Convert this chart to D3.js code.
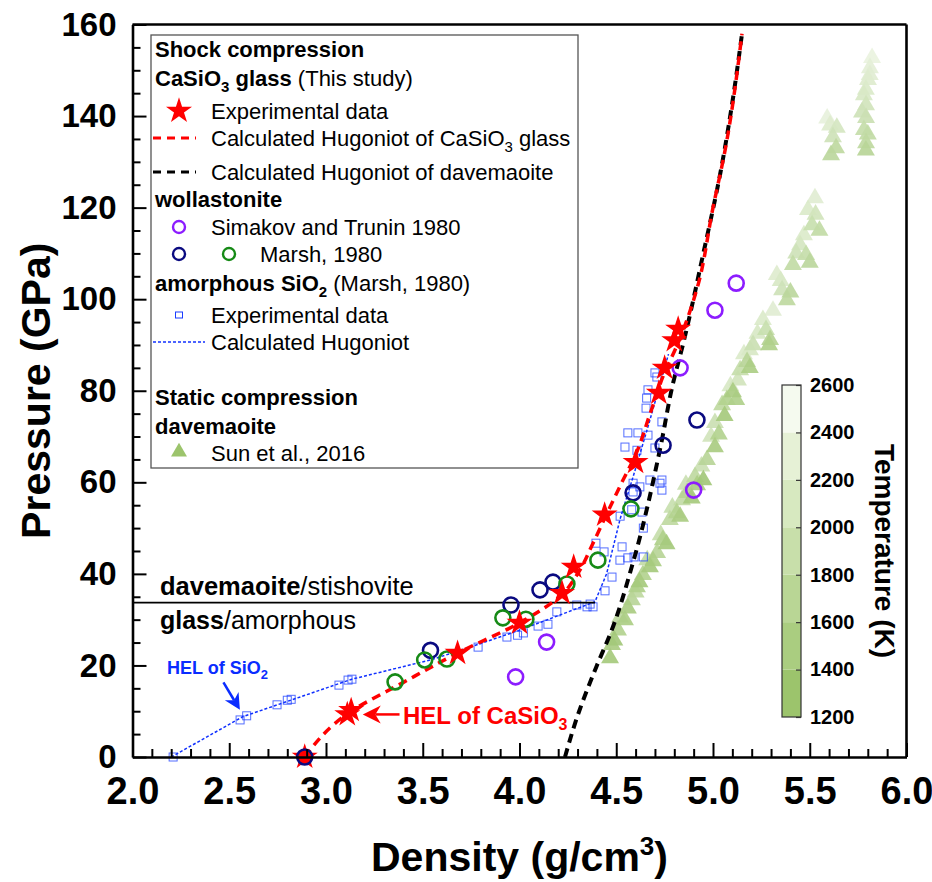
<!DOCTYPE html>
<html>
<head>
<meta charset="utf-8">
<script src="https://cdn.jsdelivr.net/npm/d3@7"></script>
<style>
  body { margin: 0; background: #fff; }
  svg { font-family: "Liberation Sans", Arial, sans-serif; }
</style>
</head>
<body>
<div id="chart"></div>
<script>
// ---- data (density g/cm3, pressure GPa) ----
const glassStars = [
  [2.89, 0], [3.11, 9.3], [3.13, 10.2], [3.68, 22.7], [4.0, 29.3], [4.22, 35.8],
  [4.28, 41.5], [4.44, 52.9], [4.6, 64.4], [4.72, 79.5], [4.75, 85], [4.80, 91], [4.82, 93.5]
];
const glassHugoniot = [
  [2.89, 0], [3.12, 9.7], [3.4, 16.3], [3.68, 22.7], [4.0, 29.3], [4.22, 35.5], [4.3, 40],
  [4.38, 46.7], [4.45, 53], [4.535, 60.5], [4.6, 66], [4.675, 75], [4.75, 84], [4.81, 89.5],
  [4.92, 102.7], [5.0, 120], [5.06, 132], [5.15, 158]
];
const davemaoiteHugoniot = [
  [4.235, 0], [4.3, 9], [4.4, 20], [4.47, 27], [4.59, 43], [4.73, 68], [4.79, 81],
  [4.85, 91], [4.95, 110], [5.04, 128], [5.10, 143], [5.15, 158]
];
const simakov = [[3.98, 17.5], [4.14, 25.1], [4.83, 85], [4.90, 58.3], [5.01, 97.6], [5.12, 103.5]];
const marshNavy = [[3.54, 23.3], [3.956, 33.2], [4.106, 36.5], [4.173, 38.2], [4.587, 57.7], [4.742, 68.1], [4.917, 73.6]];
const marshGreen = [[3.357, 16.4], [3.51, 21.2], [3.625, 21.4], [3.914, 30.4], [4.033, 30.1], [4.245, 37.8], [4.405, 43], [4.576, 54.2]];
const marshStart = [[2.89, 0]];
const silicaData = [
  [2.21, 0], [2.556, 8.1], [2.59, 9], [2.747, 11.4], [2.80, 12.4], [2.82, 12.6], [3.067, 15.7],
  [3.114, 16.8], [3.134, 17], [3.786, 24], [3.935, 26.2], [3.99, 26.6], [4.02, 27.1], [4.096, 28.6],
  [4.147, 29], [4.193, 31.7], [4.296, 33.2], [4.349, 32.8], [4.365, 33.4], [4.38, 32.8], [4.442, 36.3],
  [4.478, 39.3], [4.395, 46.7], [4.437, 44.8], [4.53, 45.9], [4.519, 43], [4.56, 43.5], [4.592, 43.7],
  [4.64, 43.7], [4.52, 52.6], [4.58, 54], [4.587, 57.9], [4.633, 53.5], [4.64, 50], [4.587, 59.8],
  [4.622, 59], [4.726, 59.8], [4.736, 58.3], [4.736, 60.5], [4.674, 60.5], [4.545, 67.7], [4.607, 67],
  [4.56, 70.8], [4.612, 70.8], [4.664, 70.3], [4.70, 67.5], [4.736, 73.2], [4.657, 78.4], [4.664, 80.2],
  [4.654, 76.2], [4.70, 83.9], [4.71, 83]
];
const silicaHugoniot = [
  [2.2, 0], [2.57, 8.8], [3.134, 17], [3.54, 21.2], [3.745, 24], [4.0, 27.7], [4.39, 33.9],
  [4.45, 40], [4.52, 52], [4.6, 63], [4.67, 73], [4.73, 82], [4.77, 88]
];
// Sun et al. 2016: [density, pressure, temperature K]
const sunData = [
  [4.468, 21.6, 1500], [4.478, 24.5, 1550], [4.509, 27.7, 1700], [4.545, 29.9, 1600], [4.581, 34.3, 1800],
  [4.607, 37.1, 1650], [4.638, 39.8, 1700], [4.674, 41.5, 1500], [4.711, 44.6, 1800], [4.741, 47.4, 1650],
  [4.777, 51.8, 1900], [4.813, 53.3, 1700], [4.840, 56.1, 1950], [4.866, 57.7, 1750], [4.907, 61.2, 1900],
  [4.918, 59.4, 1600], [4.969, 64.9, 1800], [5.010, 67.7, 1550], [5.010, 73.0, 2100], [5.047, 76.9, 1900],
  [5.072, 78.0, 1700], [5.103, 79.7, 1550], [5.129, 82.3, 2200], [5.140, 84.5, 2000], [5.176, 86.3, 1800],
  [5.191, 88.9, 2300], [5.207, 90.0, 2100], [5.258, 95.5, 2350], [5.274, 93.3, 2050], [5.295, 91.1, 1750],
  [5.330, 105.3, 2400], [5.357, 102.0, 2150], [5.382, 99.8, 1900], [5.413, 107.5, 1950], [5.450, 111.8, 2250],
  [5.481, 109.7, 2000], [5.491, 119.5, 2350], [5.512, 116.2, 2050], [5.527, 122.1, 2450], [5.605, 138.0, 2400],
  [5.620, 135.4, 2150], [5.636, 133.0, 1900], [5.780, 144.6, 2300], [5.791, 142.4, 2200], [5.791, 139.6, 2100],
  [5.780, 137.0, 2000], [5.791, 134.1, 1900], [5.801, 147.9, 2400], [5.811, 150.5, 2500], [5.822, 152.7, 2600],
  [4.49, 25.5, 1450], [4.52, 30.5, 1850], [4.56, 32.5, 1550], [4.60, 36, 1900], [4.62, 38.2, 1500],
  [4.66, 43, 1950], [4.69, 42.8, 1600], [4.73, 48.5, 2000], [4.76, 46.5, 1500], [4.79, 54.5, 2050],
  [4.83, 52.5, 1550], [4.86, 59.5, 2100], [4.89, 56.5, 1500], [4.94, 63.5, 2100], [4.95, 60.5, 1450],
  [4.99, 70, 2200], [5.03, 70.5, 1700], [5.06, 74.5, 1500], [5.09, 81, 2300], [5.12, 78, 1650],
  [5.16, 88, 2350], [5.19, 85, 1600], [5.23, 92.5, 2300], [5.31, 97.5, 2450], [5.29, 90, 1650],
  [5.35, 104, 2300], [5.40, 101.5, 1850], [5.43, 110, 2150], [5.47, 114, 2350], [5.50, 108, 1850],
  [5.53, 118.5, 2200], [5.55, 115, 1950], [5.59, 139.5, 2550], [5.61, 131.5, 1850], [5.64, 137.5, 2250],
  [5.79, 145.8, 2350], [5.81, 149, 2450], [5.77, 140.8, 2150], [5.80, 136, 1950], [5.79, 132.5, 1800]
];
const phaseBoundary = [[2.0, 33.7], [4.39, 33.7]];

const xMajor = [2.0, 2.5, 3.0, 3.5, 4.0, 4.5, 5.0, 5.5, 6.0];
const yMajor = [0, 20, 40, 60, 80, 100, 120, 140, 160];
const tempTicks = [1200, 1400, 1600, 1800, 2000, 2200, 2400, 2600];
const tempColors = ["#9cc46c", "#aacd80", "#b9d695", "#c8dfaa", "#d7e9c0", "#e6f1d6", "#f5faef"];

// ---- layout ----
const width = 932, height = 882;
const svg = d3.select("#chart").append("svg").attr("width", width).attr("height", height);

const x = d3.scaleLinear().domain([2, 6]).range([132.5, 906.5]);
const y = d3.scaleLinear().domain([0, 160]).range([757, 24.5]);
const tColor = d3.scaleLinear().domain([1200, 2600]).range(["#94bf62", "#eaf3e0"]);

const line = d3.line().x((d) => x(d[0])).y((d) => y(d[1]));

// Sun et al. triangles (hotter drawn first so cooler ones sit on top)
svg.append("g")
  .selectAll("path")
  .data(sunData.slice().sort((a, b) => b[2] - a[2]))
  .join("path")
  .attr("transform", (d) => `translate(${x(d[0])},${y(d[1])})`)
  .attr("d", d3.symbol(d3.symbolTriangle, 140))
  .attr("fill", (d) => tColor(d[2]))
  .attr("opacity", 0.92);

// amorphous SiO2 squares
svg.append("g")
  .selectAll("rect")
  .data(silicaData)
  .join("rect")
  .attr("x", (d) => x(d[0]) - 4)
  .attr("y", (d) => y(d[1]) - 4)
  .attr("width", 8)
  .attr("height", 8)
  .attr("fill", "none")
  .attr("stroke", "#1a3cff")
  .attr("stroke-width", 1)
  .attr("opacity", 0.75);

svg.append("path").datum(silicaHugoniot).attr("d", line)
  .attr("fill", "none").attr("stroke", "#1030ff").attr("stroke-width", 1.5).attr("stroke-dasharray", "3,2");

// phase boundary
svg.append("path").datum(phaseBoundary).attr("d", line)
  .attr("fill", "none").attr("stroke", "#000").attr("stroke-width", 1.8);

// Hugoniots
svg.append("path").datum(davemaoiteHugoniot).attr("d", line.curve(d3.curveMonotoneY))
  .attr("fill", "none").attr("stroke", "#000").attr("stroke-width", 4).attr("stroke-dasharray", "9,6");
svg.append("path").datum(glassHugoniot).attr("d", line.curve(d3.curveMonotoneY))
  .attr("fill", "none").attr("stroke", "#ff0000").attr("stroke-width", 3.5).attr("stroke-dasharray", "9,6");

// circles
function circles(data, color, fill) {
  svg.append("g")
    .selectAll("circle")
    .data(data)
    .join("circle")
    .attr("cx", (d) => x(d[0]))
    .attr("cy", (d) => y(d[1]))
    .attr("r", 7.5)
    .attr("fill", fill)
    .attr("stroke", color)
    .attr("stroke-width", 2.6);
}
circles(simakov, "#8c1cff", "none");
circles(marshNavy, "#0a0a80", "none");
circles(marshGreen, "#168a16", "none");

// stars
svg.append("g")
  .selectAll("path")
  .data(glassStars)
  .join("path")
  .attr("transform", (d) => `translate(${x(d[0])},${y(d[1])})`)
  .attr("d", d3.symbol(d3.symbolStar, 210))
  .attr("fill", "#ff0000");
circles(marshStart, "#0a0a80", "#ff0000");

// ---- axes ----
const fmt = d3.format(".1f");
const xAxis = svg.append("g").attr("transform", `translate(0,${y(0)})`)
  .call(d3.axisBottom(x).tickValues(xMajor).tickFormat(fmt).tickSizeInner(-14).tickSizeOuter(0).tickPadding(20));
svg.append("g").attr("transform", `translate(0,${y(0)})`)
  .call(d3.axisBottom(x).tickValues(d3.range(2.1, 6, 0.1).filter((v) => Math.abs(v * 2 - Math.round(v * 2)) > 0.01))
    .tickFormat("").tickSizeInner(-8).tickSizeOuter(0))
  .call((g) => g.select(".domain").remove());
const yAxis = svg.append("g").attr("transform", `translate(${x(2)},0)`)
  .call(d3.axisLeft(y).tickValues(yMajor).tickSizeInner(-14).tickSizeOuter(0).tickPadding(16));
svg.append("g").attr("transform", `translate(${x(2)},0)`)
  .call(d3.axisLeft(y).tickValues(d3.range(5, 160, 5).filter((v) => v % 20 !== 0)).tickFormat("").tickSizeInner(-8).tickSizeOuter(0))
  .call((g) => g.select(".domain").remove());

svg.selectAll(".tick line").attr("stroke-width", 2);
svg.selectAll(".domain").attr("stroke-width", 2.6);
xAxis.selectAll("text").attr("font-family", "'Liberation Sans Narrow', 'Liberation Sans', Arial")
  .attr("font-weight", "bold").attr("font-size", 38).attr("fill", "#000");
yAxis.selectAll("text").attr("font-family", "'Liberation Sans Narrow', 'Liberation Sans', Arial")
  .attr("font-weight", "bold").attr("font-size", 33).attr("fill", "#000");

// top / right frame
svg.append("line").attr("x1", x(2)).attr("x2", x(6)).attr("y1", y(160)).attr("y2", y(160))
  .attr("stroke", "#000").attr("stroke-width", 2.6);
svg.append("line").attr("x1", x(6)).attr("x2", x(6)).attr("y1", y(160)).attr("y2", y(0))
  .attr("stroke", "#000").attr("stroke-width", 2.6);

// axis titles
svg.append("text")
  .attr("transform", `translate(50,${(y(0) + y(160)) / 2}) rotate(-90)`)
  .attr("text-anchor", "middle").attr("font-weight", "bold").attr("font-size", 41)
  .text("Pressure (GPa)");
const xt = svg.append("text")
  .attr("x", (x(2) + x(6)) / 2).attr("y", 871)
  .attr("text-anchor", "middle").attr("font-weight", "bold").attr("font-size", 41);
xt.append("tspan").text("Density (g/cm");
xt.append("tspan").attr("font-size", 26).attr("dy", -16).text("3");
xt.append("tspan").attr("dy", 16).text(")");

// ---- annotations ----
const boundaryText = svg.append("text").attr("x", 160).attr("y", y(33.7) - 8).attr("font-size", 25.5);
boundaryText.append("tspan").attr("font-weight", "bold").text("davemaoite");
boundaryText.append("tspan").text("/stishovite");
const glassText = svg.append("text").attr("x", 160).attr("y", y(33.7) + 26).attr("font-size", 25);
glassText.append("tspan").attr("font-weight", "bold").text("glass");
glassText.append("tspan").text("/amorphous");

function arrow(from, to, color, head) {
  const x1 = x(from[0]), y1 = y(from[1]), x2 = x(to[0]), y2 = y(to[1]);
  const a = Math.atan2(y2 - y1, x2 - x1);
  svg.append("line").attr("x1", x1).attr("y1", y1)
    .attr("x2", x2 - Math.cos(a) * head * 0.7).attr("y2", y2 - Math.sin(a) * head * 0.7)
    .attr("stroke", color).attr("stroke-width", 2.5);
  const p = [[0, 0], [-head, -head * 0.5], [-head * 0.7, 0], [-head, head * 0.5]];
  svg.append("path")
    .attr("transform", `translate(${x2},${y2}) rotate(${(a * 180) / Math.PI})`)
    .attr("d", d3.line()(p) + "Z").attr("fill", color);
}
const hsText = svg.append("text").attr("x", 167).attr("y", 674)
  .attr("font-size", 18).attr("font-weight", "bold").attr("fill", "#0a2cff");
hsText.append("tspan").text("HEL of SiO");
hsText.append("tspan").attr("font-size", 13).attr("dy", 5).text("2");
arrow([2.47, 16.3], [2.555, 10.3], "#0a2cff", 16);

const hcText = svg.append("text").attr("x", 403).attr("y", 724)
  .attr("font-size", 24).attr("font-weight", "bold").attr("fill", "#ff0000");
hcText.append("tspan").text("HEL of CaSiO");
hcText.append("tspan").attr("font-size", 16).attr("dy", 6).text("3");
arrow([3.38, 9.3], [3.19, 9.3], "#ff0000", 18);

// ---- colorbar ----
const cbX = 782, cbW = 19;
const tY = d3.scaleLinear().domain([1200, 2600]).range([717, 385]);
svg.append("g")
  .selectAll("rect")
  .data(tempColors)
  .join("rect")
  .attr("x", cbX)
  .attr("width", cbW)
  .attr("y", (d, i) => tY(tempTicks[i + 1]))
  .attr("height", (d, i) => tY(tempTicks[i]) - tY(tempTicks[i + 1]))
  .attr("fill", (d) => d);
svg.append("rect").attr("x", cbX).attr("y", tY(2600)).attr("width", cbW).attr("height", tY(1200) - tY(2600))
  .attr("fill", "none").attr("stroke", "#333").attr("stroke-width", 1.2);
const cbAxis = svg.append("g").attr("transform", `translate(${cbX + cbW},0)`)
  .call(d3.axisRight(tY).tickValues(tempTicks).tickFormat(d3.format("d")).tickSizeInner(-5).tickSizeOuter(0).tickPadding(9));
cbAxis.select(".domain").remove();
cbAxis.selectAll(".tick line").attr("stroke", "#333").attr("stroke-width", 1.2);
cbAxis.selectAll("text").attr("font-size", 20).attr("font-weight", "bold").attr("fill", "#000")
  .attr("font-family", "'Liberation Sans', Arial");
svg.append("text")
  .attr("transform", `translate(875,${(tY(1200) + tY(2600)) / 2}) rotate(90)`)
  .attr("text-anchor", "middle").attr("font-size", 28).attr("font-weight", "bold")
  .text("Temperature (K)");

// ---- legend ----
const lg = svg.append("g");
lg.append("rect").attr("x", 151).attr("y", 35).attr("width", 427).attr("height", 433)
  .attr("fill", "#fff").attr("stroke", "#555").attr("stroke-width", 1.3);
const lx = 155, tx = 211, sx = 179, fs = 22;
function ltext(yy, parts) {
  const t = lg.append("text").attr("y", yy).attr("font-size", fs);
  parts.forEach((p, i) => {
    const s = t.append("tspan").text(p.t);
    if (i === 0) s.attr("x", p.x);
    if (p.b) s.attr("font-weight", "bold");
    if (p.sub) s.attr("font-size", 15).attr("dy", 6);
    if (p.up) s.attr("dy", -6);
  });
}
ltext(57, [{ x: lx, t: "Shock compression", b: true }]);
ltext(86, [{ x: lx, t: "CaSiO", b: true }, { t: "3", b: true, sub: true }, { t: " glass", b: true, up: true }, { t: " (This study)" }]);
lg.append("path").attr("transform", `translate(${sx},111)`).attr("d", d3.symbol(d3.symbolStar, 210)).attr("fill", "#ff0000");
ltext(119, [{ x: tx, t: "Experimental data" }]);
lg.append("line").attr("x1", 153).attr("x2", 196).attr("y1", 138).attr("y2", 138)
  .attr("stroke", "#ff0000").attr("stroke-width", 3).attr("stroke-dasharray", "8,6");
ltext(146, [{ x: tx, t: "Calculated Hugoniot of CaSiO" }, { t: "3", sub: true }, { t: " glass", up: true }]);
lg.append("line").attr("x1", 153).attr("x2", 196).attr("y1", 172).attr("y2", 172)
  .attr("stroke", "#000").attr("stroke-width", 3).attr("stroke-dasharray", "8,6");
ltext(180, [{ x: tx, t: "Calculated Hugoniot of davemaoite" }]);
ltext(207, [{ x: lx, t: "wollastonite", b: true }]);
lg.append("circle").attr("cx", sx).attr("cy", 227).attr("r", 6).attr("fill", "none").attr("stroke", "#8c1cff").attr("stroke-width", 2.4);
ltext(235, [{ x: tx, t: "Simakov and Trunin 1980" }]);
lg.append("circle").attr("cx", sx).attr("cy", 254).attr("r", 6).attr("fill", "none").attr("stroke", "#0a0a80").attr("stroke-width", 2.4);
lg.append("circle").attr("cx", 229).attr("cy", 254).attr("r", 6).attr("fill", "none").attr("stroke", "#168a16").attr("stroke-width", 2.4);
ltext(262, [{ x: 260, t: "Marsh, 1980" }]);
ltext(291, [{ x: lx, t: "amorphous SiO", b: true }, { t: "2", b: true, sub: true }, { t: " (Marsh, 1980)", up: true }]);
lg.append("rect").attr("x", sx - 3.5).attr("y", 312).attr("width", 7).attr("height", 6)
  .attr("fill", "none").attr("stroke", "#1a3cff").attr("stroke-width", 1);
ltext(323, [{ x: tx, t: "Experimental data" }]);
lg.append("line").attr("x1", 153).attr("x2", 205).attr("y1", 342).attr("y2", 342)
  .attr("stroke", "#1030ff").attr("stroke-width", 1.5).attr("stroke-dasharray", "3,2");
ltext(350, [{ x: tx, t: "Calculated Hugoniot" }]);
ltext(405, [{ x: lx, t: "Static compression", b: true }]);
ltext(434, [{ x: lx, t: "davemaoite", b: true }]);
lg.append("path").attr("transform", `translate(${sx},452)`).attr("d", d3.symbol(d3.symbolTriangle, 110)).attr("fill", "#9cc46c");
ltext(461, [{ x: tx, t: "Sun et al., 2016" }]);
</script>
</body>
</html>
